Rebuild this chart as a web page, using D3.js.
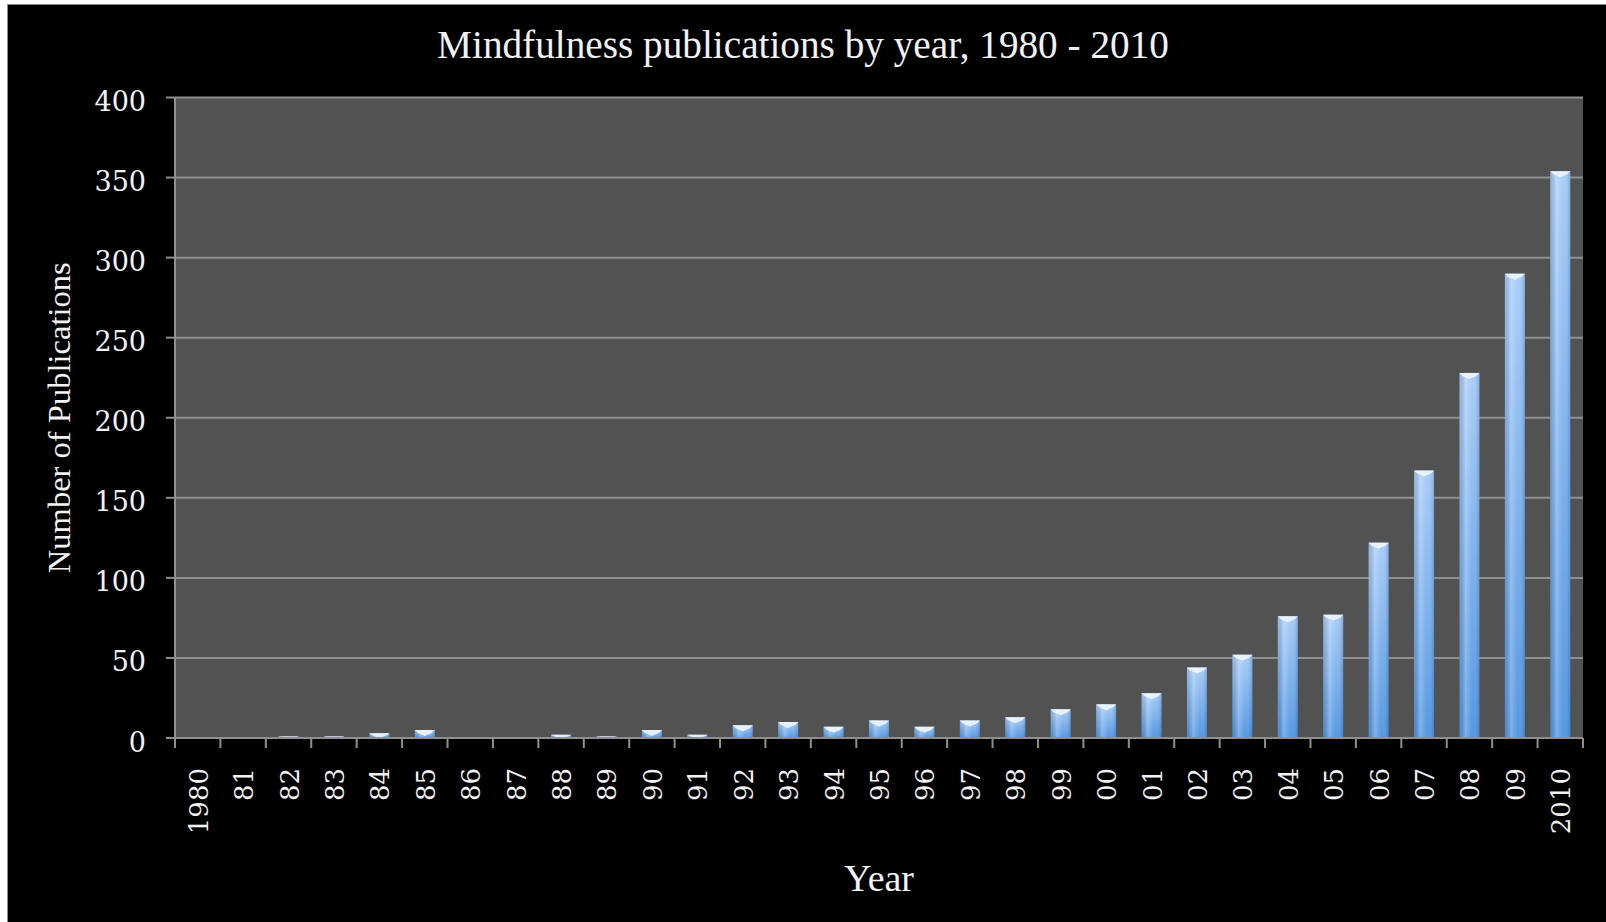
<!DOCTYPE html>
<html>
<head>
<meta charset="utf-8">
<script src="https://cdn.jsdelivr.net/npm/d3@7"></script>
<style>
  html, body { margin: 0; padding: 0; background: #ffffff; }
  svg { display: block; }
</style>
</head>
<body>
<svg id="chart" width="1606" height="922"></svg>
<script>
// ---- Data ----
const years = ["1980","81","82","83","84","85","86","87","88","89",
               "90","91","92","93","94","95","96","97","98","99",
               "00","01","02","03","04","05","06","07","08","09","2010"];
const publications = [0,0,1,1,3,5,0,0,2,1,
                      5,2,8,10,7,11,7,11,13,18,
                      21,28,44,52,76,77,122,167,228,290,354];
const yTicks = [0,50,100,150,200,250,300,350,400];
const titleText = "Mindfulness publications by year, 1980 - 2010";
const xTitle = "Year";
const yTitle = "Number of Publications";

// ---- Layout ----
const W = 1606, H = 922;
const plot = { left: 175, right: 1583, top: 97.5, bottom: 738 };
const serif = "'Liberation Serif', 'Times New Roman', serif";
const numFont = "'DejaVu Serif', serif";

const svg = d3.select("#chart");

// defs: gradients
const defs = svg.append("defs");
const gV = defs.append("linearGradient").attr("id", "barV")
  .attr("x1", 0).attr("y1", 0).attr("x2", 0).attr("y2", 1);
gV.append("stop").attr("offset", "0%").attr("stop-color", "#a9cdf8");
gV.append("stop").attr("offset", "100%").attr("stop-color", "#5397e2");

const gH = defs.append("linearGradient").attr("id", "barH")
  .attr("x1", 0).attr("y1", 0).attr("x2", 1).attr("y2", 0);
gH.append("stop").attr("offset", "0%").attr("stop-color", "#000").attr("stop-opacity", 0.10);
gH.append("stop").attr("offset", "30%").attr("stop-color", "#fff").attr("stop-opacity", 0.25);
gH.append("stop").attr("offset", "65%").attr("stop-color", "#fff").attr("stop-opacity", 0.0);
gH.append("stop").attr("offset", "100%").attr("stop-color", "#00306a").attr("stop-opacity", 0.22);

// chart background (black with thin gray border)
svg.append("rect")
  .attr("x", 7.5).attr("y", 4.5)
  .attr("width", W - 7.5 + 5).attr("height", H - 4.5 + 5)
  .attr("fill", "#000").attr("stroke", "#8a8a8a").attr("stroke-width", 1);

// scales
const x = d3.scaleBand().domain(years)
  .range([plot.left, plot.right])
  .paddingInner(0.56).paddingOuter(0.28);
const xEdge = d3.scaleLinear().domain([0, years.length]).range([plot.left, plot.right]);
const y = d3.scaleLinear().domain([0, 400]).range([plot.bottom, plot.top]);

// plot area
svg.append("rect")
  .attr("x", plot.left).attr("y", y(400))
  .attr("width", plot.right - plot.left).attr("height", y(0) - y(400))
  .attr("fill", "#525252");

// gridlines
svg.append("g").selectAll("line").data(yTicks.filter(d => d > 0)).join("line")
  .attr("x1", plot.left).attr("x2", plot.right)
  .attr("y1", d => y(d)).attr("y2", d => y(d))
  .attr("stroke", "#8f8f8f").attr("stroke-width", 2);

// bars
const bars = svg.append("g");
const bw = x.bandwidth();
bars.selectAll("rect.base").data(publications).join("rect")
  .attr("class", "base")
  .attr("x", (d, i) => x(years[i]))
  .attr("y", d => y(d))
  .attr("width", bw)
  .attr("height", d => y(0) - y(d))
  .attr("fill", "url(#barV)");
bars.selectAll("rect.shade").data(publications).join("rect")
  .attr("class", "shade")
  .attr("x", (d, i) => x(years[i]))
  .attr("y", d => y(d))
  .attr("width", bw)
  .attr("height", d => y(0) - y(d))
  .attr("fill", "url(#barH)");
// bevel cap
bars.selectAll("path.cap").data(publications.map((v, i) => ({v, i})).filter(d => d.v > 0)).join("path")
  .attr("class", "cap")
  .attr("d", d => {
    const x0 = x(years[d.i]), x1 = x0 + bw, t = y(d.v);
    const depth = Math.min(6, y(0) - t);
    return `M${x0},${t} L${x1},${t} L${x1 - 3},${t + depth * 0.5} L${x0 + bw / 2},${t + depth} L${x0 + 3},${t + depth * 0.5} Z`;
  })
  .attr("fill", "#eef5ff").attr("opacity", 0.9);

// axes lines
const axisColor = "#8f8f8f";
svg.append("line")
  .attr("x1", plot.left).attr("x2", plot.left)
  .attr("y1", y(400)).attr("y2", plot.bottom + 10)
  .attr("stroke", axisColor).attr("stroke-width", 2);
svg.append("line")
  .attr("x1", plot.left - 9).attr("x2", plot.right)
  .attr("y1", y(0)).attr("y2", y(0))
  .attr("stroke", axisColor).attr("stroke-width", 2);

// y ticks
svg.append("g").selectAll("line").data(yTicks).join("line")
  .attr("x1", plot.left - 9).attr("x2", plot.left)
  .attr("y1", d => y(d)).attr("y2", d => y(d))
  .attr("stroke", axisColor).attr("stroke-width", 2);
svg.append("g").selectAll("text").data(yTicks).join("text")
  .attr("x", 146).attr("y", d => y(d))
  .attr("dy", "0.5em")
  .attr("text-anchor", "end")
  .attr("font-family", numFont).attr("font-size", 27)
  .attr("fill", "#f2f2f2")
  .text(d => d);

// x ticks
svg.append("g").selectAll("line").data(d3.range(years.length + 1)).join("line")
  .attr("x1", d => xEdge(d)).attr("x2", d => xEdge(d))
  .attr("y1", y(0)).attr("y2", y(0) + 10)
  .attr("stroke", axisColor).attr("stroke-width", 2);
svg.append("g").selectAll("text").data(years).join("text")
  .attr("transform", d => `translate(${x(d) + bw / 2 + 1},${y(0) + 30}) rotate(-90)`)
  .attr("text-anchor", "end")
  .attr("dominant-baseline", "central")
  .attr("font-family", numFont).attr("font-size", 26)
  .attr("fill", "#f2f2f2")
  .text(d => d);

// titles, fitted to the widths seen in the reference
function fitText(sel, targetWidth, startSize) {
  sel.attr("font-size", startSize);
  const w = sel.node().getComputedTextLength();
  if (w > 0) sel.attr("font-size", startSize * targetWidth / w);
  return sel;
}

fitText(svg.append("text")
  .attr("x", 803).attr("y", 58)
  .attr("text-anchor", "middle")
  .attr("font-family", serif)
  .attr("fill", "#f2f2f2")
  .text(titleText), 732, 36);

fitText(svg.append("text")
  .attr("x", (plot.left + plot.right) / 2).attr("y", 891)
  .attr("text-anchor", "middle")
  .attr("font-family", serif)
  .attr("fill", "#f2f2f2")
  .text(xTitle), 70, 34);

fitText(svg.append("text")
  .attr("transform", `translate(70,${(plot.top + plot.bottom) / 2}) rotate(-90)`)
  .attr("text-anchor", "middle")
  .attr("font-family", serif)
  .attr("fill", "#f2f2f2")
  .text(yTitle), 311, 30);
</script>
</body>
</html>
